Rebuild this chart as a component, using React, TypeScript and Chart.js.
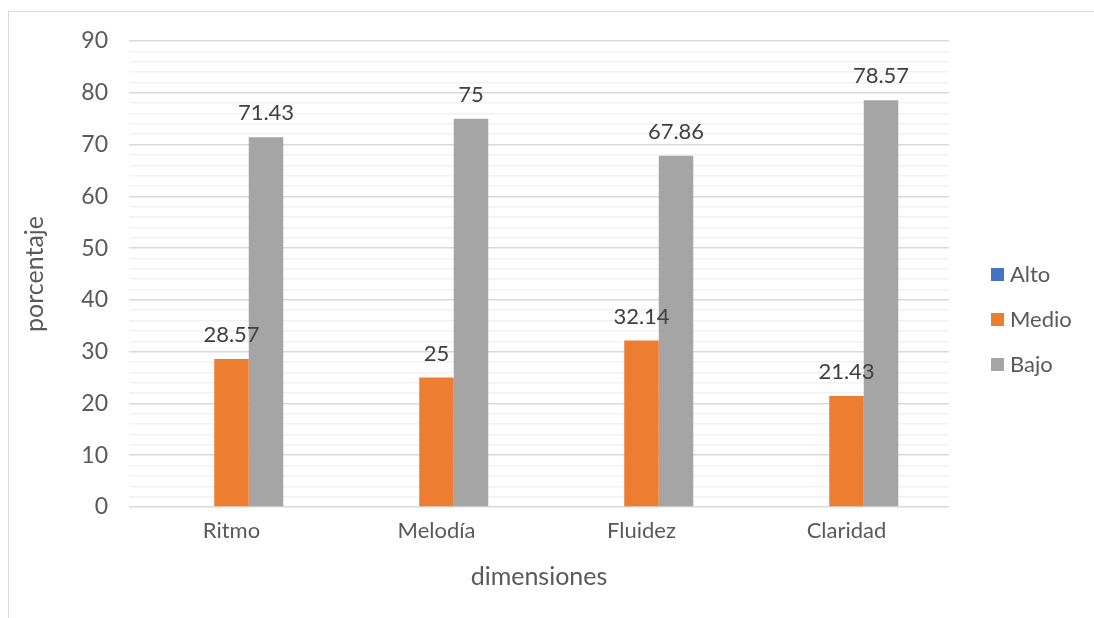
import React, { useEffect, useRef } from "react";
import { Chart, registerables } from "chart.js";

Chart.register(...registerables);

const categories = ["Ritmo", "Melodía", "Fluidez", "Claridad"];
const seriesNames = ["Alto", "Medio", "Bajo"];
const altoValues = [0, 0, 0, 0];
const medioValues = [28.57, 25, 32.14, 21.43];
const bajoValues = [71.43, 75, 67.86, 78.57];
const seriesColors = ["#4472C4", "#ED7D31", "#A5A5A5"];
const yMin = 0;
const yMax = 90;
const yStep = 2;
const yLabelStep = 10;
const xTitle = "dimensiones";
const yTitle = "porcentaje";

const FONT = "Lato, 'Open Sans', sans-serif";

const labelPlugin = {
  id: "valueLabels",
  afterDatasetsDraw(chart: any) {
    const ctx = chart.ctx;
    ctx.save();
    ctx.font = `22px ${FONT}`;
    ctx.fillStyle = "#404040";
    ctx.textAlign = "center";
    ctx.textBaseline = "middle";
    chart.data.datasets.forEach((ds: any, di: number) => {
      if (di === 0) return;
      const meta = chart.getDatasetMeta(di);
      meta.data.forEach((el: any, i: number) => {
        const v = ds.data[i];
        ctx.fillText(String(v), el.x, el.y - 24);
      });
    });
    ctx.restore();
  },
};

const legendPlugin = {
  id: "customLegend",
  afterDraw(chart: any) {
    const ctx = chart.ctx;
    ctx.save();
    ctx.font = `22px ${FONT}`;
    ctx.textAlign = "left";
    ctx.textBaseline = "middle";
    const x0 = 991;
    const y0 = 274.5;
    const gap = 45;
    seriesNames.forEach((name, i) => {
      const cy = y0 + i * gap;
      ctx.fillStyle = seriesColors[i];
      ctx.fillRect(x0, cy - 6.5, 13, 13);
      ctx.fillStyle = "#595959";
      ctx.fillText(name, x0 + 19, cy);
    });
    ctx.restore();
  },
};

export default function App() {
  const ref = useRef<HTMLCanvasElement | null>(null);

  useEffect(() => {
    if (!ref.current) return;
    const chart = new Chart(ref.current, {
      type: "bar",
      data: {
        labels: categories,
        datasets: [
          { label: seriesNames[0], data: altoValues, backgroundColor: seriesColors[0] },
          { label: seriesNames[1], data: medioValues, backgroundColor: seriesColors[1] },
          { label: seriesNames[2], data: bajoValues, backgroundColor: seriesColors[2] },
        ],
      },
      options: {
        responsive: false,
        animation: false,
        devicePixelRatio: 1,
        layout: { padding: { left: 0, top: 41, right: 145, bottom: 0 } },
        datasets: {
          bar: { barPercentage: 1, categoryPercentage: 0.505 },
        },
        plugins: {
          legend: { display: false },
          tooltip: { enabled: false },
        },
        scales: {
          x: {
            grid: { display: false, drawTicks: false },
            border: { display: false },
            ticks: {
              color: "#595959",
              font: { family: FONT, size: 22 },
              padding: 11,
              maxRotation: 0,
            },
            title: {
              display: true,
              text: xTitle,
              color: "#595959",
              font: { family: FONT, size: 25 },
              padding: { top: 0, bottom: 26 },
            },
            afterFit(scale: any) {
              scale.height = 111;
            },
          },
          y: {
            min: yMin,
            max: yMax,
            border: { display: false },
            grid: {
              drawTicks: false,
              lineWidth: 1.5,
              color: (c: any) =>
                c.tick && c.tick.value % yLabelStep === 0 ? "#d9d9d9" : "#f2f2f2",
            },
            ticks: {
              stepSize: yStep,
              autoSkip: false,
              color: "#595959",
              font: { family: FONT, size: 23 },
              padding: 21,
              callback: (v: any) => (Number(v) % yLabelStep === 0 ? String(v) : ""),
            },
            title: {
              display: true,
              text: yTitle,
              color: "#595959",
              font: { family: FONT, size: 25 },
              padding: { top: 20, bottom: 0 },
            },
            afterFit(scale: any) {
              scale.width = 129;
            },
          },
        },
      },
      plugins: [labelPlugin, legendPlugin],
    } as any);
    return () => chart.destroy();
  }, []);

  return (
    <div
      style={{
        position: "fixed",
        left: 0,
        top: 0,
        width: 1094,
        height: 618,
        background: "#ffffff",
        overflow: "hidden",
      }}
    >
      <div
        style={{
          position: "absolute",
          left: 8,
          top: 11,
          width: 1100,
          height: 620,
          border: "1px solid #d9d9d9",
          boxSizing: "border-box",
        }}
      />
      <canvas
        ref={ref}
        width={1094}
        height={618}
        style={{ position: "absolute", left: 0, top: 0, width: 1094, height: 618 }}
      />
    </div>
  );
}
